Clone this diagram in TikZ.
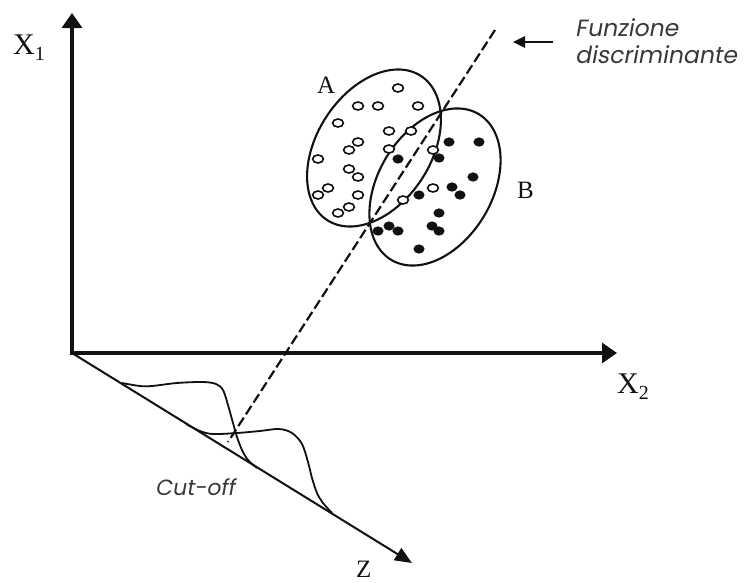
\documentclass[tikz,border=0pt]{standalone}
\usepackage{fontspec}
\setmainfont{Liberation Serif}
\newfontfamily\gothic[FakeSlant=0.18]{Poppins}
\usetikzlibrary{arrows.meta}
\definecolor{ink}{HTML}{111111}
\definecolor{grayink}{HTML}{383838}
\begin{document}
\begin{tikzpicture}[x=1pt,y=-1pt,
  axis/.style={draw=ink, line width=3.2pt, -{Triangle[length=15pt,width=20pt]}},
  zaxis/.style={draw=ink, line width=2pt, -{Triangle[length=17pt,width=14pt]}},
  discr/.style={draw=ink, line width=2.2pt, dash pattern=on 10pt off 4pt},
  blob/.style={draw=ink, line width=2.1pt},
  distr/.style={draw=ink, line width=1.8pt},
  serif/.style={text=ink, inner sep=0pt, anchor=base west},
  sans/.style={text=grayink, inner sep=0pt, anchor=base west, font=\gothic\fontsize{23.5}{26}\selectfont},
  pointer/.style={draw=ink, line width=2.7pt, -{Triangle[length=12pt,width=11pt]}}]
\useasboundingbox (0,0) rectangle (745,582);

% axes
\coordinate (O) at (72,353);
\coordinate (X1end) at (72,13);
\coordinate (X2end) at (617,353);
\coordinate (Zend) at (412,563);
\draw[axis] ([yshift=-1.6pt]O) -- (X1end);
\draw[axis] ([xshift=-1.6pt]O) -- (X2end);
\draw[zaxis] (O) -- (Zend);

% discriminant line
\coordinate (Dtop) at (495,30);
\coordinate (Dbot) at (228,442);
\draw[discr] (Dtop) -- (Dbot);

% ellipses A and B
\draw[blob] plot[domain=0:360, samples=120]
  ({374 + 86*cos(\x)*cos(-57) - 57*sin(\x)*sin(-57)},
   {148 + 86*cos(\x)*sin(-57) + 57*sin(\x)*cos(-57)});
\draw[blob] plot[domain=0:360, samples=120]
  ({435 + 85*cos(\x)*cos(-59) - 57*sin(\x)*sin(-59)},
   {187 + 85*cos(\x)*sin(-59) + 57*sin(\x)*cos(-59)});

% open dots (group A)
\foreach \p in {(398,88),(358,106),(378,106),(418,106),(338,123),(389,131),(411,131),
  (358,142),(349,150),(389,149),(433,150),(318,159),(349,169),(358,177),(328,188),
  (318,195),(358,195),(433,188),(403,200),(349,207),(338,213)}
  \draw[ink, line width=1.6pt, fill=white] \p ellipse [x radius=5.4, y radius=4];

% filled dots (group B)
\foreach \p in {(449,142),(479,142),(398,159),(439,158),(473,177),(452,187),(460,195),
  (419,195),(439,213),(378,231),(389,226),(398,231),(432,226),(439,231),(419,249)}
  \fill[ink] \p ellipse [x radius=5.6, y radius=4.6];

% distributions on Z
\draw[distr] plot[smooth, tension=0.55] coordinates {(122,383) (140,386) (152,386) (177,383)
  (203,382) (216,384) (223,390) (228,405) (233,423) (237,437) (242,450) (248,460) (257,468)};
\draw[distr] plot[smooth, tension=0.55] coordinates {(186,424) (200,431) (213,434) (237,433)
  (260,431) (279,429) (292,433) (302,444) (308,462) (312,478) (317,493) (323,503) (332,513)};

% labels
\node[serif] (lx1) at (13,54) {\fontsize{30}{32}\selectfont X\raisebox{-6pt}{\fontsize{20}{20}\selectfont 1}};
\node[serif] (lx2) at (617,393) {\fontsize{30}{32}\selectfont X\raisebox{-6pt}{\fontsize{20}{20}\selectfont 2}};
\node[serif] (lz) at (356,577) {\fontsize{25}{28}\selectfont Z};
\node[serif] (la) at (317,93) {\fontsize{25}{26}\selectfont A};
\node[serif] (lb) at (517,198) {\fontsize{25}{26}\selectfont B};
\node[sans, font=\gothic\fontsize{22}{26}\selectfont] (cut) at (155,495) {Cut-off};
\node[sans] (fz1) at (575,36) {Funzione};
\node[sans] (fz2) at (575,63) {discriminante};

\coordinate (Fa) at (553,42);
\coordinate (Fb) at (513,42);
\draw[pointer] (Fa) -- (Fb);
\end{tikzpicture}
\end{document}
